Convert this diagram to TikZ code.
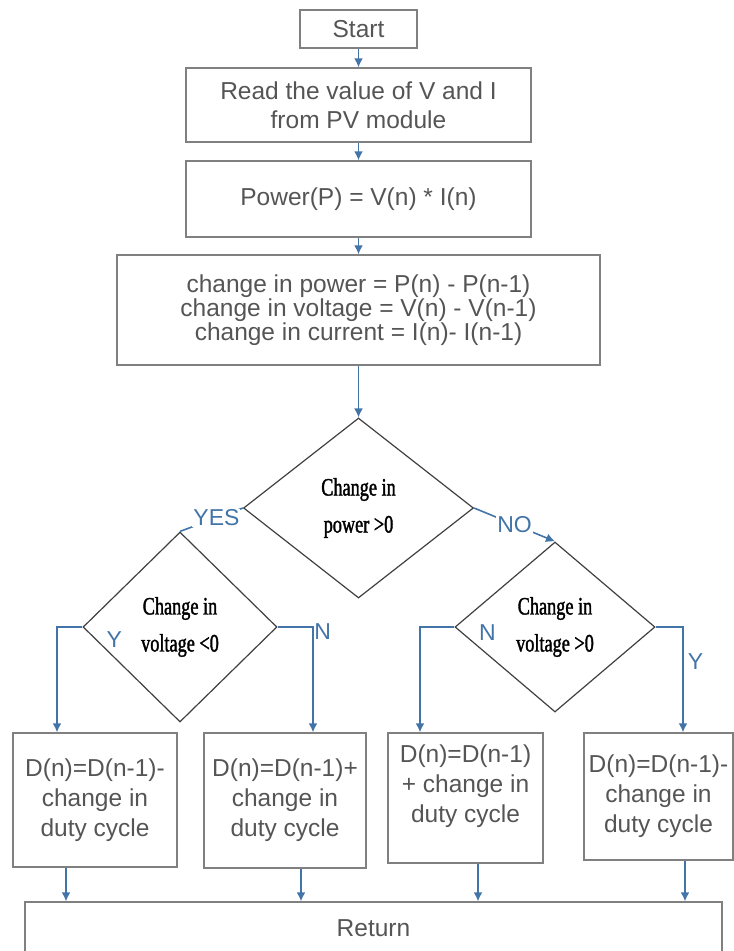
\documentclass[tikz,border=0pt]{standalone}
\usepackage{fontspec}
\setmainfont{Liberation Sans}
\newfontfamily\diafont[FakeStretch=0.73,FakeBold=1.5]{Liberation Serif}
\usetikzlibrary{arrows.meta,shapes.geometric}
\definecolor{flowblue}{HTML}{4374A8}
\definecolor{boxgray}{HTML}{808080}
\definecolor{txtgray}{HTML}{555555}

\begin{document}
\begin{tikzpicture}[x=1pt,y=-1pt,
                    box node/.style={rectangle,draw=boxgray,line width=1.4pt,text=txtgray,
                      align=center,inner sep=0pt,font=\fontsize{24.5}{29}\selectfont},
                    box text/.style={text=txtgray,align=center,inner sep=0pt,
                      font=\fontsize{24.5}{30}\selectfont},
                    dec node/.style={diamond,draw=black!75,line width=1.2pt,align=center,
                      inner sep=0pt,font=\diafont\fontsize{25}{37}\selectfont},
                    flow/.style={color=flowblue,line width=1.6pt,-{Latex[length=9pt,width=9pt]}},
                    ans/.style={text=flowblue,inner sep=1pt,font=\fontsize{23}{23}\selectfont}]
  \useasboundingbox (0,0) rectangle (734,951);
  %main column%
  \node[box node,minimum width=117pt,minimum height=38pt] (start) at (358.5,29) {Start};
  \node[box node,minimum width=345pt,minimum height=74pt] (read) at (358.5,105)
    {Read the value of V and I\\from PV module};
  \node[box node,minimum width=345pt,minimum height=76pt] (power) at (358.5,199)
    {Power(P) = V(n) * I(n)};
  \node[box node,minimum width=483pt,minimum height=110pt,
        font=\fontsize{24.5}{22.5}\selectfont] (diff) at (358.5,310)
    {change in power = P(n) - P(n-1)\\change in voltage = V(n) - V(n-1)\\change in current = I(n)- I(n-1)};

  %decisions%
  \node[dec node,minimum width=230pt,minimum height=180pt] (dpow) at (358.5,508) {Change in\\power >0};
  \node[dec node,minimum width=194pt,minimum height=190pt] (dvlt) at (180,627) {Change in\\voltage <0};
  \node[dec node,minimum width=200pt,minimum height=170pt] (dvgt) at (555,627) {Change in\\voltage >0};

  %duty cycle updates%
  \node[box node,minimum width=164pt,minimum height=134pt,
        font=\fontsize{24.5}{30}\selectfont] (b1) at (95,800)
    {D(n)=D(n-1)-\\change in\\duty cycle};
  \node[box node,minimum width=162pt,minimum height=135pt,
        font=\fontsize{24.5}{30}\selectfont] (b2) at (285,800.5)
    {D(n)=D(n-1)+\\change in\\duty cycle};
  \node[box node,minimum width=155pt,minimum height=130pt] (b3) at (465.5,798) {};
  \node[box text] (b3t) at (465.5,786) {D(n)=D(n-1)\\+ change in\\duty cycle};
  \node[box node,minimum width=149pt,minimum height=127pt,
        font=\fontsize{24.5}{30}\selectfont] (b4) at (658.5,796.5)
    {D(n)=D(n-1)-\\change in\\duty cycle};

  \node[box node,minimum width=697pt,minimum height=52pt] (ret) at (373.5,928) {Return};

  \draw[flow] (start) -- (read);
  \draw[flow] (read) -- (power);
  \draw[flow] (power) -- (diff);
  \draw[flow] (diff) -- (dpow);

  \draw[flow,-] (dpow.west) -- node[ans,fill=white,pos=0.42] {YES} (dvlt.north);
  \draw[flow] (dpow.east) -- node[ans,fill=white] {NO} (dvgt.north);

  \draw[flow] (dvlt.west) -| ([xshift=-38pt]b1.north);
  \draw[flow] (dvlt.east) -| ([xshift=28pt]b2.north);
  \draw[flow] (dvgt.west) -| ([xshift=-45.5pt]b3.north);
  \draw[flow] (dvgt.east) -| ([xshift=24.5pt]b4.north);

  \node[ans] (y1) at ([shift={(32,13)}]dvlt.west) {Y};
  \node[ans] (n1) at ([shift={(45,5)}]dvlt.east) {N};
  \node[ans] (n2) at ([shift={(33,6)}]dvgt.west) {N};
  \node[ans] (y2) at ([shift={(40,35)}]dvgt.east) {Y};

  \draw[flow] ([xshift=-29pt]b1.south) -- ([xshift=-29pt]b1.south |- ret.north);
  \draw[flow] ([xshift=16pt]b2.south) -- ([xshift=16pt]b2.south |- ret.north);
  \draw[flow] ([xshift=12.5pt]b3.south) -- ([xshift=12.5pt]b3.south |- ret.north);
  \draw[flow] ([xshift=26.5pt]b4.south) -- ([xshift=26.5pt]b4.south |- ret.north);
\end{tikzpicture}
\end{document}
